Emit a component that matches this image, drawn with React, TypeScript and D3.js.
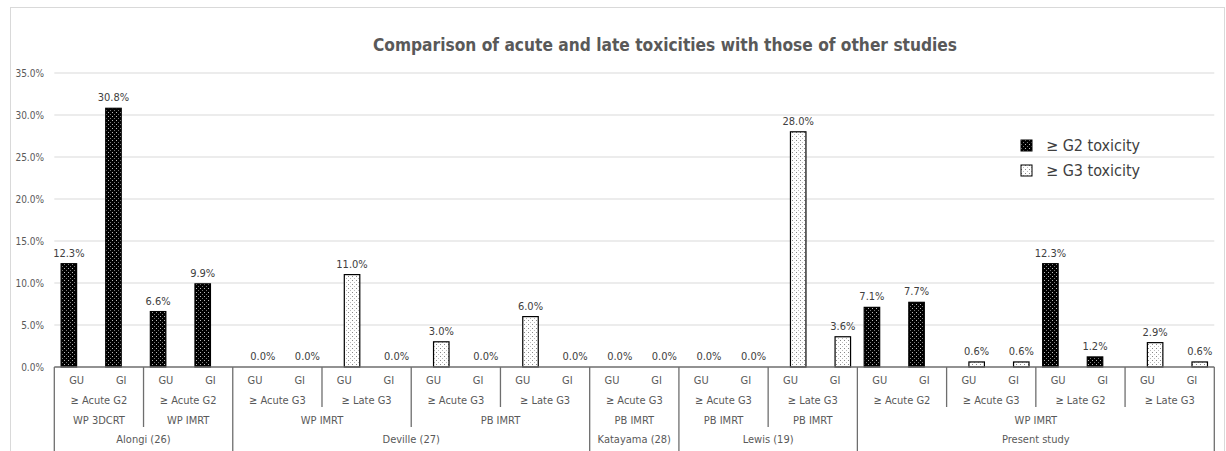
import React from 'react';
import * as d3 from 'd3';

// Leaf categories (organ system) and the grouping rows beneath them
const leaves = [
  'GU', 'GI', 'GU', 'GI',
  'GU', 'GI', 'GU', 'GI', 'GU', 'GI', 'GU', 'GI',
  'GU', 'GI',
  'GU', 'GI', 'GU', 'GI',
  'GU', 'GI', 'GU', 'GI', 'GU', 'GI', 'GU', 'GI',
];
const gradeGroups: [string, number][] = [
  ['≥ Acute G2', 2], ['≥ Acute G2', 2],
  ['≥ Acute G3', 2], ['≥ Late G3', 2], ['≥ Acute G3', 2], ['≥ Late G3', 2],
  ['≥ Acute G3', 2],
  ['≥ Acute G3', 2], ['≥ Late G3', 2],
  ['≥ Acute G2', 2], ['≥ Acute G3', 2], ['≥ Late G2', 2], ['≥ Late G3', 2],
];
const techniqueGroups: [string, number][] = [
  ['WP 3DCRT', 2], ['WP IMRT', 2],
  ['WP IMRT', 4], ['PB IMRT', 4],
  ['PB IMRT', 2],
  ['PB IMRT', 2], ['PB IMRT', 2],
  ['WP IMRT', 8],
];
const studyGroups: [string, number][] = [
  ['Alongi (26)', 4], ['Deville (27)', 8], ['Katayama (28)', 2], ['Lewis (19)', 4], ['Present study', 8],
];

// Series values in percent (null = not reported for that category)
const g2Values: (number | null)[] = [
  12.3, 30.8, 6.6, 9.9,
  null, null, null, null, null, null, null, null,
  null, null,
  null, null, null, null,
  7.1, 7.7, null, null, 12.3, 1.2, null, null,
];
const g3Values: (number | null)[] = [
  null, null, null, null,
  0.0, 0.0, 11.0, 0.0, 3.0, 0.0, 6.0, 0.0,
  0.0, 0.0,
  0.0, 0.0, 28.0, 3.6,
  null, null, 0.6, 0.6, null, null, 2.9, 0.6,
];
const seriesNames = ['≥ G2 toxicity', '≥ G3 toxicity'];
const yTicks = [0, 5, 10, 15, 20, 25, 30, 35];
const title = 'Comparison of acute and late toxicities with those of other studies';

const W = 1226;
const H = 451;
const FONT = '"DejaVu Sans Condensed", "DejaVu Sans", sans-serif';

export default function App() {
  const x0 = 54.3;
  const x1 = 1214.3;
  const yBase = 367;
  const yTop = 73;

  const x = d3.scaleBand<number>().domain(d3.range(leaves.length)).range([x0, x1]).padding(0);
  const inner = d3.scaleBand<string>().domain(['g2', 'g3']).range([0, x.bandwidth()]).paddingInner(0).paddingOuter(0.44);
  const y = d3.scaleLinear().domain([0, 35]).range([yBase, yTop]);
  const fmt = (v: number) => `${v.toFixed(1)}%`;

  const series = [
    { key: 'g2', values: g2Values, fill: 'url(#patDark)' },
    { key: 'g3', values: g3Values, fill: 'url(#patLight)' },
  ];

  // group spans in leaf units -> boundaries
  const spans = (groups: [string, number][]) => {
    let acc = 0;
    return groups.map(([label, n]) => {
      const s = acc;
      acc += n;
      return { label, start: s, end: acc };
    });
  };
  const lvl2 = spans(gradeGroups);
  const lvl3 = spans(techniqueGroups);
  const lvl4 = spans(studyGroups);

  const edgeX = (i: number) => (i >= leaves.length ? x1 : (x(i) as number));

  // boundary depth: highest grouping level that breaks at each boundary
  const depth = new Map<number, number>();
  const mark = (i: number, d: number) => depth.set(i, Math.max(depth.get(i) || 0, d));
  lvl2.forEach((g) => { mark(g.start, 407); mark(g.end, 407); });
  lvl3.forEach((g) => { mark(g.start, 427); mark(g.end, 427); });
  lvl4.forEach((g) => { mark(g.start, 451); mark(g.end, 451); });

  const axisCol = '#6e6e6e';
  const textCol = '#595959';

  return (
    <svg width={W} height={H} style={{ position: 'absolute', left: 0, top: 0, background: '#fff' }} fontFamily={FONT}>
      <defs>
        <pattern id="patDark" width="4" height="4" patternUnits="userSpaceOnUse">
          <rect width="4" height="4" fill="#000" />
          <rect x="0" y="0" width="1" height="1" fill="#bbb" />
          <rect x="2" y="2" width="1" height="1" fill="#777" />
        </pattern>
        <pattern id="patLight" width="4" height="4" patternUnits="userSpaceOnUse">
          <rect width="4" height="4" fill="#fff" />
          <rect x="0" y="0" width="1" height="1" fill="#888" />
          <rect x="2" y="2" width="1" height="1" fill="#bbb" />
        </pattern>
      </defs>

      {/* chart frame */}
      <rect x={10.5} y={7.5} width={1214} height={460} fill="none" stroke="#d9d9d9" />

      <text x={665} y={51} textAnchor="middle" fontSize={17.2} fill={textCol} fontWeight="bold">{title}</text>

      {/* gridlines and y labels */}
      {yTicks.map((t) => (
        <g key={t}>
          {t > 0 && <line x1={x0} x2={x1} y1={y(t)} y2={y(t)} stroke="#d9d9d9" strokeWidth={1} />}
          <text x={44} y={y(t) + 3.5} textAnchor="end" fontSize={10} fill={textCol}>{fmt(t)}</text>
        </g>
      ))}

      {/* bars */}
      {series.map((s) =>
        s.values.map((v, i) =>
          v == null ? null : (
            <g key={`${s.key}-${i}`}>
              {v > 0 && (
                <rect
                  x={(x(i) as number) + (inner(s.key) as number)}
                  y={y(v)}
                  width={inner.bandwidth()}
                  height={yBase - y(v)}
                  fill={s.fill}
                  stroke="#000"
                  strokeWidth={1.2}
                />
              )}
              <text
                x={(x(i) as number) + (inner(s.key) as number) + inner.bandwidth() / 2}
                y={y(v) - 7}
                textAnchor="middle"
                fontSize={11}
                fill="#404040"
              >
                {fmt(v)}
              </text>
            </g>
          )
        )
      )}

      {/* category axis */}
      <line x1={x0} x2={x1} y1={yBase} y2={yBase} stroke={axisCol} strokeWidth={1.3} />
      {Array.from(depth.entries()).map(([i, d]) => (
        <line key={`sep-${i}`} x1={edgeX(i)} x2={edgeX(i)} y1={yBase} y2={d} stroke={axisCol} strokeWidth={1.3} />
      ))}
      {leaves.map((l, i) => (
        <text key={`leaf-${i}`} x={(x(i) as number) + x.bandwidth() / 2} y={384} textAnchor="middle" fontSize={11} fill={textCol}>{l}</text>
      ))}
      {lvl2.map((g, i) => (
        <text key={`l2-${i}`} x={(edgeX(g.start) + edgeX(g.end)) / 2} y={404} textAnchor="middle" fontSize={11} fill={textCol}>{g.label}</text>
      ))}
      {lvl3.map((g, i) => (
        <text key={`l3-${i}`} x={(edgeX(g.start) + edgeX(g.end)) / 2} y={424} textAnchor="middle" fontSize={11} fill={textCol}>{g.label}</text>
      ))}
      {lvl4.map((g, i) => (
        <text key={`l4-${i}`} x={(edgeX(g.start) + edgeX(g.end)) / 2} y={443} textAnchor="middle" fontSize={11} fill={textCol}>{g.label}</text>
      ))}

      {/* legend */}
      {seriesNames.map((n, i) => (
        <g key={n} transform={`translate(1021, ${140 + i * 25})`}>
          <rect x={0} y={0} width={11} height={11} fill={i === 0 ? 'url(#patDark)' : 'url(#patLight)'} stroke="#000" strokeWidth={1} />
          <text x={25} y={11} fontSize={16} fill="#404040">{n}</text>
        </g>
      ))}
    </svg>
  );
}
